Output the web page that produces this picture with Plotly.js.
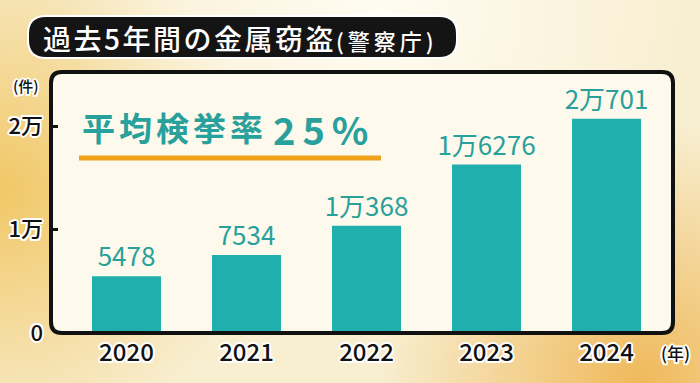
<!DOCTYPE html>
<html>
<head>
<meta charset="utf-8">
<script src="https://cdn.plot.ly/plotly-3.0.1.min.js"></script>
<style>
  html, body { margin: 0; padding: 0; background: #f9efd3; }
  #chart { width: 700px; height: 383px; }
</style>
</head>
<body>
<div id="chart"></div>
<script>
// ---- data ----
const years = ['2020', '2021', '2022', '2023', '2024'];
const counts = [5478, 7534, 10368, 16276, 20701];
const countLabels = ['5478', '7534', '1万368', '1万6276', '2万701'];
const yTickVals = [0, 10000, 20000];
const yTickText = ['0', '1万', '2万'];
const titleMain = '過去5年間の金属窃盗';
const titleSource = '(警察庁)';
const yUnit = '(件)';
const xUnit = '(年)';
const rateLabel = '平均検挙率';
const rateValue = '25%';

// ---- geometry helpers ----
const W = 700, H = 383, L = 51, R = 27, T = 72, B = 50;
const PW = W - L - R, PH = H - T - B;
const px = x => (x - L) / PW;
const py = y => (H - B - y) / PH;

function roundRect(x0, y0, x1, y1, r) {
  const X0 = px(x0), X1 = px(x1), Y0 = py(y0), Y1 = py(y1);
  const rx = r / PW, ry = r / PH;
  return `M${X0 + rx},${Y0} L${X1 - rx},${Y0} Q${X1},${Y0} ${X1},${Y0 - ry} ` +
         `L${X1},${Y1 + ry} Q${X1},${Y1} ${X1 - rx},${Y1} ` +
         `L${X0 + rx},${Y1} Q${X0},${Y1} ${X0},${Y1 + ry} ` +
         `L${X0},${Y0 - ry} Q${X0},${Y0} ${X0 + rx},${Y0} Z`;
}

const bgSvg = `<svg xmlns="http://www.w3.org/2000/svg" width="700" height="383">
<defs>
<radialGradient id="a" cx="0" cy="190" r="260" gradientUnits="userSpaceOnUse">
<stop offset="0" stop-color="#f1c766"/><stop offset="1" stop-color="#f1c766" stop-opacity="0"/></radialGradient>
<radialGradient id="b" cx="640" cy="383" r="260" gradientUnits="userSpaceOnUse">
<stop offset="0" stop-color="#efb95a"/><stop offset="1" stop-color="#efb95a" stop-opacity="0"/></radialGradient>
<radialGradient id="c" cx="380" cy="10" r="320" gradientUnits="userSpaceOnUse">
<stop offset="0" stop-color="#fffcf2"/><stop offset="1" stop-color="#fffcf2" stop-opacity="0"/></radialGradient>
</defs>
<rect width="700" height="383" fill="#f8eed0"/>
<rect width="700" height="383" fill="url(#a)"/>
<rect width="700" height="383" fill="url(#b)"/>
<rect width="700" height="383" fill="url(#c)"/>
</svg>`;
const bgUri = 'data:image/svg+xml;charset=utf-8,' + encodeURIComponent(bgSvg);

const JP = '"Noto Sans CJK JP", "Noto Sans", sans-serif';
const TEAL_BAR = '#20afad';
const TEAL_TEXT = '#28a09b';
const OUTLINE = '1.5px 1.5px 0 #fff, -1.5px -1.5px 0 #fff, 1.5px -1.5px 0 #fff, -1.5px 1.5px 0 #fff, 0 2px 0 #fff, 0 -2px 0 #fff, 2px 0 0 #fff, -2px 0 0 #fff';

const trace = {
  type: 'bar',
  x: years,
  y: counts,
  width: 0.575,
  marker: { color: TEAL_BAR, line: { width: 0 } },
  text: countLabels,
  textposition: 'outside',
  constraintext: 'none',
  cliponaxis: false,
  textfont: { family: JP, size: 26, color: TEAL_TEXT },
  hoverinfo: 'skip'
};

const layout = {
  width: W, height: H,
  margin: { l: L, r: R, t: T, b: B, pad: 0 },
  paper_bgcolor: '#f8eed0',
  plot_bgcolor: 'rgba(0,0,0,0)',
  showlegend: false,
  font: { family: JP, color: '#111' },
  xaxis: {
    type: 'category',
    range: [-0.629, 4.554],
    showgrid: false, zeroline: false, showline: false,
    ticks: '',
    ticklabelstandoff: 3,
    tickfont: { family: JP, size: 24, color: '#111', weight: 500, shadow: OUTLINE },
    fixedrange: true
  },
  yaxis: {
    range: [0, 25217],
    tickvals: yTickVals,
    ticktext: yTickText,
    showgrid: false, zeroline: false, showline: false,
    ticks: 'inside', ticklen: 7, tickwidth: 3, tickcolor: '#111',
    ticklabelstandoff: 7,
    tickfont: { family: JP, size: 22, color: '#111', weight: 500, shadow: OUTLINE },
    fixedrange: true
  },
  images: [{
    source: bgUri, xref: 'paper', yref: 'paper',
    x: px(0), y: py(0), sizex: W / PW, sizey: H / PH,
    xanchor: 'left', yanchor: 'top', sizing: 'stretch', layer: 'below'
  }],
  shapes: [
    { type: 'path', xref: 'paper', yref: 'paper', layer: 'below',
      path: roundRect(51, 72, 673, 333, 11), fillcolor: '#fdf9ec', line: { width: 0 } },
    { type: 'path', xref: 'paper', yref: 'paper', layer: 'above',
      path: roundRect(51, 72, 673, 333, 11), fillcolor: 'rgba(0,0,0,0)', line: { color: '#111', width: 4 } },
    { type: 'path', xref: 'paper', yref: 'paper', layer: 'above',
      path: roundRect(27, 15, 458, 59, 19), fillcolor: '#ffffff', line: { width: 0 } },
    { type: 'path', xref: 'paper', yref: 'paper', layer: 'above',
      path: roundRect(29, 17, 456, 57, 17), fillcolor: '#141414', line: { width: 0 } },
    { type: 'line', xref: 'paper', yref: 'paper', layer: 'above',
      x0: px(79), x1: px(381), y0: py(158), y1: py(158),
      line: { color: '#f0a11c', width: 5 } }
  ],
  annotations: [
    { text: titleMain, xref: 'paper', yref: 'paper', x: px(41), y: py(38),
      xanchor: 'left', yanchor: 'middle', align: 'left', showarrow: false,
      font: { family: JP, size: 28, color: '#ffffff', weight: 500 } },
    { text: titleSource, xref: 'paper', yref: 'paper', x: px(334), y: py(40),
      xanchor: 'left', yanchor: 'middle', align: 'left', showarrow: false,
      font: { family: JP, size: 22, color: '#ffffff', weight: 500 } },
    { text: rateLabel, xref: 'paper', yref: 'paper', x: px(80), y: py(127),
      xanchor: 'left', yanchor: 'middle', align: 'left', showarrow: false,
      font: { family: JP, size: 33, color: TEAL_TEXT, weight: 700 } },
    { text: rateValue, xref: 'paper', yref: 'paper', x: px(271), y: py(128),
      xanchor: 'left', yanchor: 'middle', align: 'left', showarrow: false,
      font: { family: JP, size: 38, color: TEAL_TEXT, weight: 700 } },
    { text: yUnit, xref: 'paper', yref: 'paper', x: px(26), y: py(85),
      xanchor: 'center', yanchor: 'middle', showarrow: false,
      font: { family: JP, size: 15, color: '#111', weight: 500, shadow: OUTLINE } },
    { text: xUnit, xref: 'paper', yref: 'paper', x: px(675), y: py(352),
      xanchor: 'center', yanchor: 'middle', showarrow: false,
      font: { family: JP, size: 17, color: '#111', weight: 500, shadow: OUTLINE } }
  ]
};

const spacing = {};
spacing[titleMain] = '2.5px';
spacing[titleSource] = '4px';
spacing[rateLabel] = '4px';
spacing[rateValue] = '7px';

Plotly.newPlot('chart', [trace], layout, { staticPlot: true, displayModeBar: false }).then(() => {
  document.querySelectorAll('.annotation-text').forEach(el => {
    const s = spacing[el.textContent];
    if (s) el.style.letterSpacing = s;
  });
});
</script>
</body>
</html>
